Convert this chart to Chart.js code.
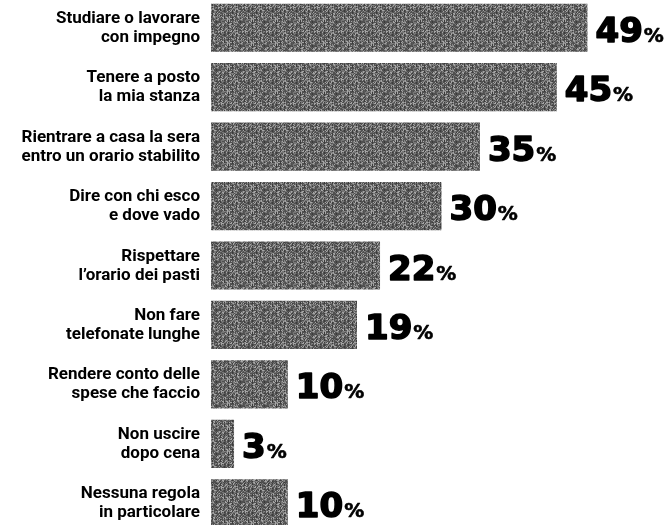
<!DOCTYPE html>
<html>
<head>
<meta charset="utf-8">
<script src="https://cdn.jsdelivr.net/npm/chart.js@4.4.1/dist/chart.umd.min.js"></script>
<style>
  html, body { margin: 0; padding: 0; background: #fff; overflow: hidden; }
  #c { position: absolute; left: 0; top: -2px; }
</style>
</head>
<body>
<canvas id="c" width="672" height="535"></canvas>
<script>
const categories = [
  ['Studiare o lavorare', 'con impegno'],
  ['Tenere a posto', 'la mia stanza'],
  ['Rientrare a casa la sera', 'entro un orario stabilito'],
  ['Dire con chi esco', 'e dove vado'],
  ['Rispettare', 'l\u2019orario dei pasti'],
  ['Non fare', 'telefonate lunghe'],
  ['Rendere conto delle', 'spese che faccio'],
  ['Non uscire', 'dopo cena'],
  ['Nessuna regola', 'in particolare']
];
const values = [49, 45, 35, 30, 22, 19, 10, 3, 10];

// halftone-like texture for the bars (deterministic dither)
function makePattern() {
  const p = document.createElement('canvas');
  p.width = 24; p.height = 24;
  const g = p.getContext('2d');
  const img = g.createImageData(24, 24);
  for (let y = 0; y < 24; y++) {
    for (let x = 0; x < 24; x++) {
      const h = ((x * 73856093) ^ (y * 19349663) ^ (x * y * 83492791)) >>> 0;
      const r = (h % 1000) / 1000;
      let v = r < 0.4 ? 80 : r < 0.75 ? 118 : 165;
      if (x % 4 === 0) v = Math.max(60, v - 30);
      const i = (y * 24 + x) * 4;
      img.data[i] = img.data[i + 1] = img.data[i + 2] = v;
      img.data[i + 3] = 255;
    }
  }
  g.putImageData(img, 0, 0);
  return g.createPattern(p, 'repeat');
}

// category labels, right aligned line by line, placed on the y scale
const catLabels = {
  id: 'catLabels',
  afterDraw(chart) {
    const ctx = chart.ctx;
    const y = chart.scales.y;
    const right = chart.chartArea.left - 11;
    ctx.save();
    ctx.fillStyle = '#000';
    ctx.textAlign = 'right';
    ctx.textBaseline = 'alphabetic';
    ctx.font = '700 17px Roboto';
    categories.forEach((lines, i) => {
      const cy = y.getPixelForValue(i);
      ctx.fillText(lines[0], right, cy - 5);
      ctx.fillText(lines[1], right, cy + 14);
    });
    ctx.restore();
  }
};

const valueLabels = {
  id: 'valueLabels',
  afterDatasetsDraw(chart) {
    const ctx = chart.ctx;
    const meta = chart.getDatasetMeta(0);
    ctx.save();
    ctx.fillStyle = '#000';
    ctx.strokeStyle = '#000';
    ctx.lineJoin = 'round';
    ctx.textBaseline = 'alphabetic';
    meta.data.forEach((bar, i) => {
      const num = String(values[i]);
      let x = bar.x + 8;
      const yy = bar.y + 14;
      ctx.font = 'bold 34px "DejaVu Sans"';
      ctx.lineWidth = 1.6;
      ctx.fillText(num, x, yy);
      ctx.strokeText(num, x, yy);
      x += ctx.measureText(num).width + 1;
      ctx.font = 'bold 20px "DejaVu Sans"';
      ctx.lineWidth = 0.6;
      ctx.fillText('%', x, yy);
      ctx.strokeText('%', x, yy);
    });
    ctx.restore();
  }
};

new Chart(document.getElementById('c').getContext('2d'), {
  type: 'bar',
  data: {
    labels: categories.map(l => l.join(' ')),
    datasets: [{
      data: values,
      backgroundColor: makePattern(),
      borderWidth: 0,
      barPercentage: 0.81,
      categoryPercentage: 1
    }]
  },
  options: {
    indexAxis: 'y',
    responsive: false,
    animation: false,
    layout: { padding: 0 },
    scales: {
      x: { display: false, min: 0, max: 60 },
      y: {
        afterFit(scale) { scale.width = 211; },
        grid: { display: false },
        border: { display: false },
        ticks: { display: false }
      }
    },
    plugins: { legend: { display: false }, tooltip: { enabled: false } }
  },
  plugins: [valueLabels, catLabels]
});
</script>
</body>
</html>
